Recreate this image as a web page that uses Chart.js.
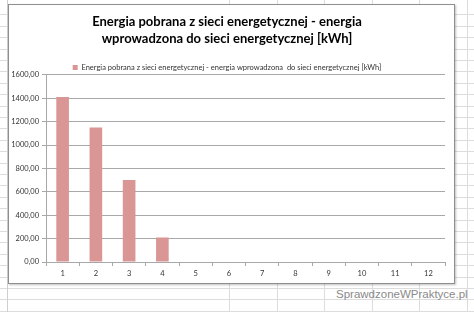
<!DOCTYPE html>
<html>
<head>
<meta charset="utf-8">
<script src="https://cdn.jsdelivr.net/npm/chart.js@4.4.1/dist/chart.umd.min.js"></script>
<style>
  html, body { margin: 0; padding: 0; }
  body {
    width: 474px; height: 312px; position: relative; overflow: hidden;
    background-color: #fff;
    background-image: repeating-linear-gradient(to bottom, transparent 0, transparent 10.4px, #dcdcdc 10.4px, #dcdcdc 11.4px);
    background-position: 0 4px;
  }
  #cols {
    position: absolute; left: 229px; top: 0; width: 250px; height: 312px;
    background-image: repeating-linear-gradient(to right, #dcdcdc 0, #dcdcdc 1px, transparent 1px, transparent 47.6px);
  }
  #rowedge { position: absolute; left: 7px; top: 0; width: 1px; height: 312px; background: #cfcfcf; }
  #box {
    position: absolute; left: 8px; top: 4px; width: 445px; height: 278px;
    border: 1px solid #8f8f8f; background: #fff;
    box-shadow: 1px 1px 2px rgba(0,0,0,0.25);
  }
  #wm {
    position: absolute; left: 336px; top: 288px;
    font: 11.5px "Liberation Sans", Arial, sans-serif; color: #8a8a8a;
  }
</style>
</head>
<body>
<div id="cols"></div>
<div id="rowedge"></div>
<div id="box"><canvas id="chart" width="445" height="278"></canvas></div>
<div id="wm">SprawdzoneWPraktyce.pl</div>
<script>
const categories = ['1', '2', '3', '4', '5', '6', '7', '8', '9', '10', '11', '12'];
const energyValues = [1410, 1150, 700, 210, 0, 0, 0, 0, 0, 0, 0, 0];
const titleLines = ['Energia pobrana z sieci energetycznej - energia', 'wprowadzona do sieci energetycznej [kWh]'];
const seriesLabel = 'Energia pobrana z sieci energetycznej - energia wprowadzona  do sieci energetycznej [kWh]';

new Chart(document.getElementById('chart'), {
    type: 'bar',
    data: {
        labels: categories,
        datasets: [{
            label: seriesLabel,
            data: energyValues,
            backgroundColor: '#d99694',
            categoryPercentage: 1,
            barPercentage: 0.38
        }]
    },
    options: {
        responsive: false,
        animation: false,
        layout: { padding: { left: 0, right: 9, top: 0, bottom: 2 } },
        scales: {
            y: {
                min: 0,
                max: 1600,
                ticks: {
                    stepSize: 200,
                    color: '#333',
                    padding: 3,
                    font: { size: 7.5, family: 'Lato' },
                    callback: v => v.toFixed(2).replace('.', ',')
                },
                grid: { color: '#a8a8a8', tickLength: 4, tickColor: '#a8a8a8' },
                border: { color: '#a8a8a8' },
                afterFit: scale => { scale.width = 37; }
            },
            x: {
                ticks: { color: '#333', padding: 3, font: { size: 7.5, family: 'Lato' } },
                grid: { drawOnChartArea: false, tickLength: 4, color: '#a8a8a8' },
                border: { color: '#a8a8a8' }
            }
        },
        plugins: {
            title: {
                display: true,
                text: titleLines,
                color: '#000',
                font: { size: 13, weight: 'bold', family: 'Lato', lineHeight: 1.3 },
                padding: { top: 8, bottom: 14 }
            },
            legend: {
                maxHeight: 14,
                labels: {
                    boxWidth: 5, boxHeight: 5, padding: 3,
                    color: '#333',
                    font: { size: 7.5, family: 'Lato' }
                }
            },
            tooltip: { enabled: false }
        }
    }
});
</script>
</body>
</html>
